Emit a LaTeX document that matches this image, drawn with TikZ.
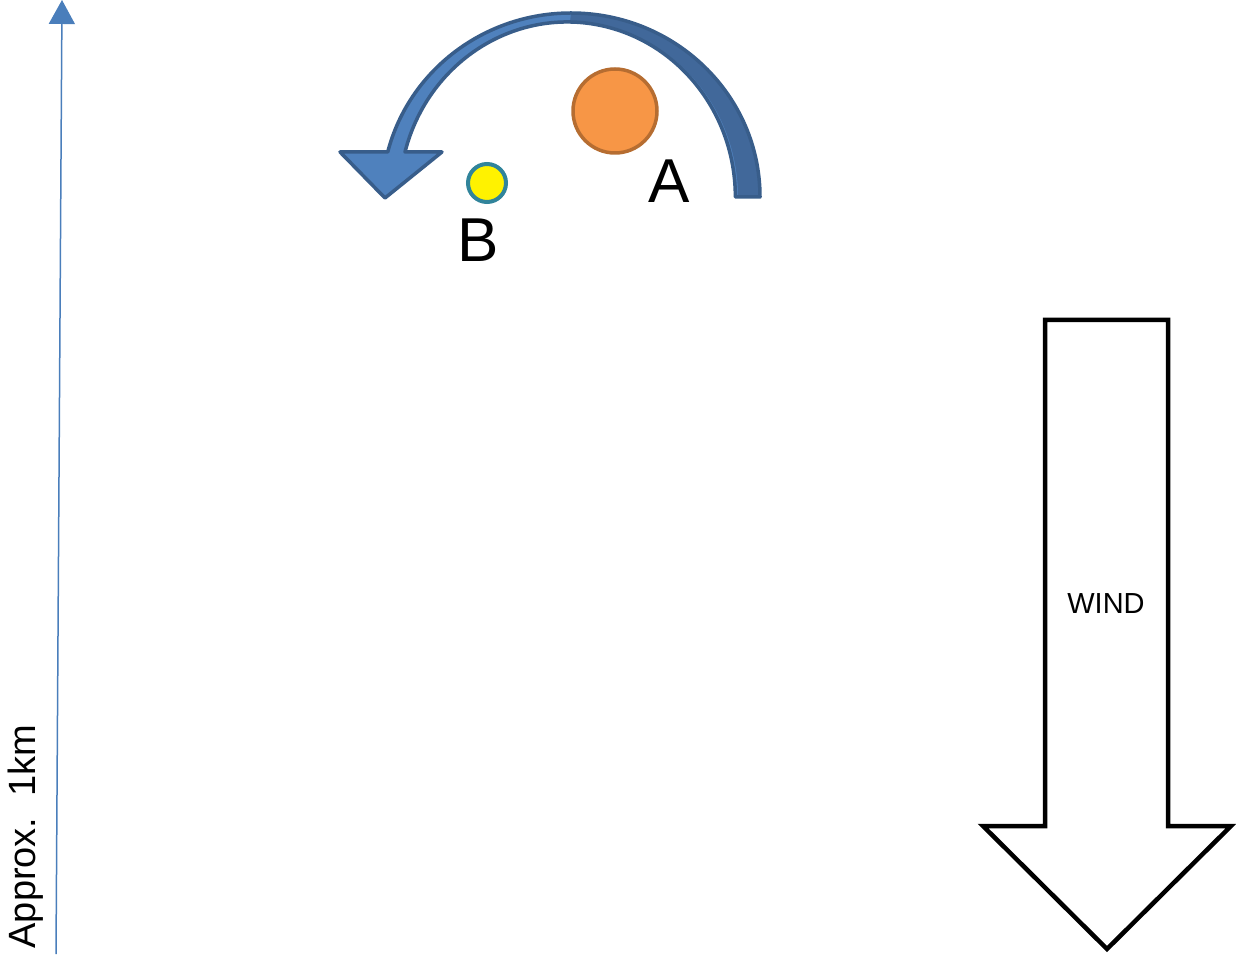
\documentclass[tikz,border=0pt]{standalone}
\usepackage{fontspec}
\setmainfont{Liberation Sans}
\usetikzlibrary{arrows.meta}
\definecolor{scaleblue}{HTML}{4A7EBB}
\definecolor{turnlight}{HTML}{4F81BD}
\definecolor{turndark}{HTML}{41689A}
\definecolor{turnedge}{HTML}{385D8A}
\definecolor{puffA}{HTML}{F79646}
\definecolor{puffAedge}{HTML}{B66D31}
\definecolor{puffBedge}{HTML}{31849B}
\begin{document}
\begin{tikzpicture}[x=1pt,y=1pt,
        puff/.style={circle,inner sep=0pt,line width=3.5pt},
        letter/.style={font=\fontsize{62}{62}\selectfont,inner sep=0pt}]
            \useasboundingbox (0,0) rectangle (1236,954);

                % height scale
                \coordinate (scalebase) at (56,0);
                \coordinate (scaletop) at (62,954);
                \draw [scaleblue, line width=1.5pt, -{Triangle[length=24pt,width=26pt]}] (scalebase)--(scaletop);
                \node (scalelabel) [rotate=90, anchor=base, inner sep=0pt, font=\fontsize{38}{38}\selectfont] at (35,117.5) {Approx.\ \ 1km};

                % turning arrow
                \fill [color=turnlight] (760,757) arc[start angle=0,end angle=165.84,x radius=189pt,y radius=184pt]--(340,802)--(385,756)--(442,802)--(405,802) arc[start angle=165.1,end angle=0,x radius=168pt,y radius=175pt]--cycle;
                \fill [color=turndark] (760,757) arc[start angle=0,end angle=90,x radius=189pt,y radius=184pt]--(570,932) arc[start angle=90,end angle=0,x radius=168pt,y radius=175pt]--cycle;
                \draw [color=turnedge, line width=3.5pt, line join=round] (760,757) arc[start angle=0,end angle=165.84,x radius=189pt,y radius=184pt]--(340,802)--(385,756)--(442,802)--(405,802) arc[start angle=165.1,end angle=0,x radius=168pt,y radius=175pt]--cycle;

                \node (A) [puff, minimum size=84pt, fill=puffA, draw=puffAedge] at (615,843) {};
                \node (Alabel) [letter] at (669,773) {A};
                \node (B) [puff, minimum size=38pt, line width=4pt, fill=yellow, draw=puffBedge] at (487,771) {};
                \node (Blabel) [letter] at (478,714) {B};

                % wind
                \draw [line width=4.5pt, miter limit=10, fill=white] (1045,634)--(1168,634)--(1168,128)--(1231,128)--(1107,5)--(983,128)--(1045,128)--cycle;
                \node (wind) [font=\fontsize{29}{29}\selectfont] at (1106,350) {WIND};

\end{tikzpicture}
\end{document}
